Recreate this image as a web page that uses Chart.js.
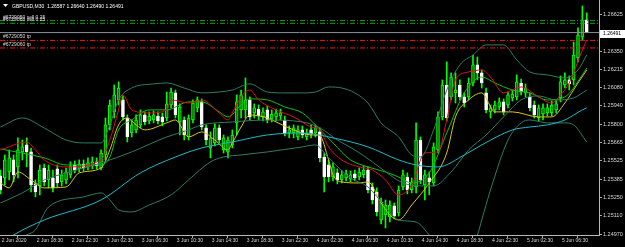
<!DOCTYPE html>
<html>
<head>
<meta charset="utf-8">
<script src="https://cdn.jsdelivr.net/npm/chart.js@4.4.1/dist/chart.umd.min.js"></script>
<style>
  html, body { margin: 0; padding: 0; background: #000; }
  canvas { display: block; background: #000; }
</style>
</head>
<body>
<canvas id="chart" width="625" height="247"></canvas>
<script>
// GBPUSD M30, bar 0 = 2 Jun 14:30
const open = [
  1.25410, 1.25395, 1.25440, 1.25531, 1.25478, 1.25591, 1.25644, 1.25591, 1.25350, 1.25335,
  1.25470, 1.25380, 1.25395, 1.25463, 1.25365, 1.25380, 1.25418, 1.25493, 1.25463, 1.25500,
  1.25478, 1.25485, 1.25516, 1.25470, 1.25568, 1.25795, 1.25893, 1.25983, 1.25983, 1.25847,
  1.25734, 1.25757, 1.25795, 1.25870, 1.25825, 1.25832, 1.25862, 1.25855, 1.25847, 1.25945,
  1.26036, 1.25817, 1.25832, 1.25704, 1.25832, 1.25923, 1.25968, 1.25772, 1.25621, 1.25659,
  1.25772, 1.25606, 1.25591, 1.25644, 1.25810, 1.25908, 1.25908, 1.25983, 1.25885, 1.25915,
  1.25855, 1.25908, 1.25840, 1.25855, 1.25862, 1.25832, 1.25734, 1.25734, 1.25704, 1.25757,
  1.25704, 1.25757, 1.25734, 1.25742, 1.25553, 1.25493, 1.25402, 1.25433, 1.25380, 1.25395,
  1.25387, 1.25425, 1.25402, 1.25418, 1.25455, 1.25327, 1.25289, 1.25078, 1.25116, 1.25101,
  1.25184, 1.25131, 1.25327, 1.25402, 1.25304, 1.25327, 1.25681, 1.25342, 1.25395, 1.25357,
  1.25606, 1.25855, 1.26096, 1.26006, 1.26036, 1.26096, 1.26006, 1.26006, 1.26111, 1.26247,
  1.26187, 1.26036, 1.25893, 1.25908, 1.25930, 1.25968, 1.25945, 1.25998, 1.26006, 1.26111,
  1.26036, 1.26006, 1.25945, 1.25847, 1.25877, 1.25885, 1.25885, 1.25908, 1.25998, 1.26096,
  1.26134, 1.26134, 1.26300, 1.26458, 1.26587
];
const high = [
  1.25455, 1.25568, 1.25606, 1.25568, 1.25697, 1.25681, 1.25697, 1.25621, 1.25380, 1.25493,
  1.25500, 1.25493, 1.25455, 1.25493, 1.25455, 1.25470, 1.25516, 1.25523, 1.25531, 1.25531,
  1.25546, 1.25553, 1.25546, 1.25606, 1.25847, 1.25983, 1.26096, 1.26119, 1.26013, 1.25870,
  1.25832, 1.25870, 1.25908, 1.25893, 1.25893, 1.25900, 1.25893, 1.25885, 1.26043, 1.26073,
  1.26058, 1.25953, 1.25855, 1.25870, 1.25983, 1.26006, 1.25991, 1.25795, 1.25742, 1.25802,
  1.25795, 1.25719, 1.25704, 1.25757, 1.26021, 1.26058, 1.26149, 1.26006, 1.25953, 1.25945,
  1.25923, 1.25938, 1.25908, 1.25915, 1.25915, 1.25862, 1.25787, 1.25795, 1.25787, 1.25787,
  1.25764, 1.25795, 1.25795, 1.25772, 1.25583, 1.25531, 1.25508, 1.25463, 1.25448, 1.25455,
  1.25448, 1.25455, 1.25470, 1.25485, 1.25478, 1.25357, 1.25320, 1.25244, 1.25229, 1.25222,
  1.25206, 1.25335, 1.25455, 1.25433, 1.25395, 1.25810, 1.25704, 1.25455, 1.25440, 1.25659,
  1.25893, 1.26134, 1.26270, 1.26187, 1.26187, 1.26134, 1.26036, 1.26149, 1.26322, 1.26307,
  1.26209, 1.26073, 1.25945, 1.25975, 1.25998, 1.25991, 1.26043, 1.26058, 1.26172, 1.26141,
  1.26104, 1.26036, 1.25975, 1.25945, 1.25953, 1.25953, 1.25975, 1.25983, 1.26164, 1.26187,
  1.26164, 1.26420, 1.26526, 1.26692, 1.26640
];
const low = [
  1.25274, 1.25342, 1.25380, 1.25365, 1.25395, 1.25531, 1.25478, 1.25289, 1.25252, 1.25267,
  1.25335, 1.25320, 1.25289, 1.25327, 1.25335, 1.25350, 1.25395, 1.25433, 1.25440, 1.25448,
  1.25455, 1.25463, 1.25463, 1.25455, 1.25531, 1.25757, 1.25847, 1.25945, 1.25832, 1.25666,
  1.25704, 1.25734, 1.25772, 1.25795, 1.25802, 1.25810, 1.25802, 1.25787, 1.25825, 1.25923,
  1.25847, 1.25719, 1.25681, 1.25681, 1.25810, 1.25893, 1.25757, 1.25644, 1.25546, 1.25636,
  1.25659, 1.25583, 1.25546, 1.25621, 1.25719, 1.25847, 1.25847, 1.25832, 1.25847, 1.25832,
  1.25825, 1.25810, 1.25817, 1.25825, 1.25832, 1.25712, 1.25697, 1.25697, 1.25681, 1.25697,
  1.25681, 1.25697, 1.25704, 1.25516, 1.25289, 1.25365, 1.25372, 1.25350, 1.25357, 1.25372,
  1.25365, 1.25372, 1.25380, 1.25395, 1.25282, 1.25199, 1.25108, 1.25048, 1.25018, 1.25063,
  1.25086, 1.25108, 1.25304, 1.25274, 1.25282, 1.25282, 1.25350, 1.25229, 1.25267, 1.25335,
  1.25583, 1.25832, 1.25825, 1.25983, 1.25960, 1.25983, 1.25930, 1.25983, 1.26089, 1.26134,
  1.26073, 1.25885, 1.25847, 1.25885, 1.25908, 1.25870, 1.25923, 1.25975, 1.25983, 1.26021,
  1.26006, 1.25900, 1.25847, 1.25825, 1.25832, 1.25862, 1.25862, 1.25885, 1.25968, 1.26073,
  1.26058, 1.26096, 1.26270, 1.26435, 1.26490
];
const close = [
  1.25304, 1.25531, 1.25546, 1.25418, 1.25606, 1.25629, 1.25591, 1.25342, 1.25289, 1.25455,
  1.25365, 1.25455, 1.25320, 1.25357, 1.25418, 1.25440, 1.25485, 1.25455, 1.25500, 1.25470,
  1.25508, 1.25516, 1.25485, 1.25583, 1.25795, 1.25945, 1.26021, 1.26073, 1.25855, 1.25704,
  1.25795, 1.25832, 1.25870, 1.25817, 1.25862, 1.25870, 1.25825, 1.25817, 1.25953, 1.26043,
  1.25870, 1.25930, 1.25719, 1.25847, 1.25960, 1.25983, 1.25779, 1.25681, 1.25697, 1.25772,
  1.25681, 1.25697, 1.25681, 1.25719, 1.25968, 1.26021, 1.25983, 1.25855, 1.25923, 1.25862,
  1.25893, 1.25832, 1.25877, 1.25885, 1.25885, 1.25734, 1.25757, 1.25772, 1.25757, 1.25719,
  1.25734, 1.25727, 1.25772, 1.25546, 1.25402, 1.25402, 1.25478, 1.25380, 1.25418, 1.25425,
  1.25418, 1.25395, 1.25440, 1.25455, 1.25304, 1.25229, 1.25139, 1.25214, 1.25191, 1.25191,
  1.25108, 1.25304, 1.25418, 1.25304, 1.25365, 1.25681, 1.25380, 1.25418, 1.25365, 1.25629,
  1.25855, 1.26096, 1.25847, 1.26156, 1.26058, 1.26006, 1.25960, 1.26111, 1.26247, 1.26187,
  1.26111, 1.25908, 1.25923, 1.25945, 1.25968, 1.25893, 1.26021, 1.26028, 1.26119, 1.26043,
  1.26073, 1.25923, 1.25870, 1.25923, 1.25923, 1.25923, 1.25945, 1.25953, 1.26119, 1.26134,
  1.26104, 1.26322, 1.26473, 1.26586, 1.26491
];

// indicator lines, read at these bar numbers
const cyanX = [0, 3, 10, 23, 32, 40, 46, 53, 61, 69, 76, 84, 91, 95, 100, 106, 110, 117, 121, 125, 129, 133, 134];
const cyanY = [1.24897, 1.24965, 1.25078, 1.25229, 1.25433, 1.25553, 1.25621, 1.25666, 1.25719, 1.25734, 1.25697, 1.25629,
  1.25531, 1.25493, 1.25478, 1.25568, 1.25644, 1.25757, 1.25779, 1.25795, 1.25832, 1.25908, 1.25923];

const bandUpX = [0, 5, 10, 15, 19, 23, 25, 27, 30, 35, 38, 42, 46, 50, 53, 57, 61, 65, 69, 72,
  75, 78, 81, 84, 87, 91, 94, 96, 99, 102, 105, 108, 111, 115, 118, 121, 125, 129, 132, 134];
const bandUpY = [1.25779, 1.25847, 1.25772, 1.25681, 1.25659, 1.25659, 1.25795, 1.25983, 1.26073, 1.26104,
  1.26111, 1.26073, 1.26036, 1.26043, 1.26058, 1.26104, 1.26043, 1.26036, 1.26036, 1.26043,
  1.26081, 1.26073, 1.26036, 1.25960, 1.25810, 1.25704, 1.25568, 1.25553, 1.25757, 1.26058,
  1.26247, 1.26322, 1.26398, 1.26398, 1.26285, 1.26194, 1.26172, 1.26149, 1.26209, 1.26322];

const bandMidX = [0, 5, 10, 15, 23, 30, 38, 43, 46, 53, 61, 69, 73, 77, 81, 85, 89, 92, 96, 99,
  103, 107, 111, 115, 119, 123, 127, 131, 134];
const bandMidY = [1.25206, 1.25282, 1.25380, 1.25433, 1.25508, 1.25591, 1.25704, 1.25757, 1.25795, 1.25817,
  1.25832, 1.25817, 1.25772, 1.25681, 1.25606, 1.25516, 1.25418, 1.25357, 1.25335, 1.25335,
  1.25440, 1.25606, 1.25719, 1.25855, 1.25983, 1.26013, 1.25983, 1.25998, 1.26058];

const bandLowX = [0, 6, 8, 11, 19, 23, 25, 27, 30, 34, 39, 43, 48, 51, 55, 61, 69, 72, 75, 80,
  84, 88, 91, 95, 98, 101, 106, 109, 110, 112, 116, 119, 121, 125, 129, 131, 134];
const bandLowY = [1.24852, 1.24965, 1.25003, 1.25176, 1.25252, 1.25282, 1.25229, 1.25154, 1.25139, 1.25191,
  1.25267, 1.25380, 1.25516, 1.25553, 1.25568, 1.25591, 1.25629, 1.25644, 1.25546, 1.25395,
  1.25327, 1.25176, 1.25078, 1.25063, 1.24965, 1.24852, 1.24852, 1.24965, 1.25078, 1.25304,
  1.25681, 1.25810, 1.25832, 1.25810, 1.25810, 1.25795, 1.25666];

const redX = [0, 6, 8, 10, 15, 23, 25, 27, 28, 30, 34, 38, 39, 43, 46, 50, 52, 53, 55, 57,
  59, 63, 67, 71, 73, 75, 78, 82, 85, 88, 91, 94, 97, 100, 102, 104, 107, 110, 112, 115,
  119, 123, 126, 128, 130, 133, 134];
const redY = [1.25606, 1.25666, 1.25606, 1.25531, 1.25478, 1.25531, 1.25681, 1.25908, 1.26021, 1.25908,
  1.25885, 1.25908, 1.25983, 1.25960, 1.25983, 1.25885, 1.25832, 1.25885, 1.26006, 1.26058,
  1.25983, 1.25908, 1.25855, 1.25779, 1.25757, 1.25629, 1.25531, 1.25478, 1.25455, 1.25380,
  1.25267, 1.25342, 1.25583, 1.25591, 1.25832, 1.26134, 1.26194, 1.26209, 1.26156, 1.26036,
  1.26081, 1.26006, 1.25960, 1.26021, 1.26111, 1.26360, 1.26435];

const greenX = [0, 10, 15, 23, 25, 27, 30, 34, 38, 43, 46, 50, 52, 55, 57, 61, 65, 69, 72, 76,
  80, 84, 88, 91, 94, 98, 102, 106, 110, 113, 117, 121, 125, 129, 133, 134];
const greenY = [1.25614, 1.25546, 1.25493, 1.25493, 1.25553, 1.25757, 1.25832, 1.25908, 1.25908, 1.25968,
  1.25968, 1.25893, 1.25855, 1.25945, 1.25991, 1.25983, 1.25930, 1.25885, 1.25795, 1.25659,
  1.25531, 1.25478, 1.25440, 1.25402, 1.25357, 1.25433, 1.25734, 1.26036, 1.26156, 1.26111,
  1.26058, 1.26036, 1.25983, 1.26006, 1.26172, 1.26224];

const yellowX = [0, 2, 4, 7, 10, 15, 18, 23, 25, 27, 29, 31, 33, 38, 40, 43, 46, 49, 52, 53,
  55, 57, 61, 63, 67, 71, 73, 75, 76, 78, 82, 84, 87, 89, 91, 94, 98, 102, 104, 107,
  110, 113, 117, 123, 126, 129, 132, 134];
const yellowY = [1.25357, 1.25320, 1.25440, 1.25380, 1.25320, 1.25327, 1.25433, 1.25470, 1.25606, 1.25795,
  1.25847, 1.25795, 1.25757, 1.25810, 1.25832, 1.25704, 1.25742, 1.25681, 1.25606, 1.25659,
  1.25779, 1.25870, 1.25847, 1.25817, 1.25757, 1.25719, 1.25712, 1.25531, 1.25418, 1.25365,
  1.25357, 1.25365, 1.25206, 1.25116, 1.25078, 1.25191, 1.25357, 1.25583, 1.25855, 1.25983,
  1.26036, 1.25893, 1.25893, 1.25855, 1.25855, 1.25960, 1.26111, 1.26209];

// orders and current bid
const sellPrices = [1.26581, 1.26561];
const sellNames = ["#6729050 sell 0.25", "#6729060 sell 0.25"];
const tpPrices = [1.26432, 1.26375];
const tpNames = ["#6729050 tp", "#6729060 tp"];
const bid = 1.26491;

// axes
const timeBars = [0, 8, 16, 24, 32, 40, 48, 56, 64, 72, 80, 88, 96, 104, 112, 120, 128];
const timeLabels = ["2 Jun 2020", "2 Jun 18:30", "2 Jun 22:30", "3 Jun 02:30", "3 Jun 06:30", "3 Jun 10:30",
  "3 Jun 14:30", "3 Jun 18:30", "3 Jun 22:30", "4 Jun 02:30", "4 Jun 06:30", "4 Jun 10:30",
  "4 Jun 14:30", "4 Jun 18:30", "4 Jun 22:30", "5 Jun 02:30", "5 Jun 06:30"];
const priceTicks = [1.24970, 1.25110, 1.25250, 1.25385, 1.25525, 1.25665, 1.25800, 1.25940,
  1.26080, 1.26215, 1.26350, 1.26490, 1.26625];

const FONT = "Liberation Sans";
const X_MIN = -0.1, X_MAX = 136.8;

function pts(xs, ys) {
  return xs.map((x, i) => ({ x: x, y: ys[i] }));
}
function lineSet(data, color, width) {
  return {
    type: "line", data: data, borderColor: color, borderWidth: width || 1,
    pointRadius: 0, cubicInterpolationMode: "monotone", clip: 0, order: 1
  };
}
function levelSet(price, color, dash) {
  return {
    type: "line", data: [{ x: X_MIN, y: price }, { x: X_MAX, y: price }],
    borderColor: color, borderWidth: 1, borderDash: dash, pointRadius: 0, clip: 0, order: 0
  };
}

const bull = close.map((c, i) => c >= open[i]);

const overlay = {
  id: "overlay",
  afterDraw(chart) {
    const ctx = chart.ctx;
    const ys = chart.scales.y;
    ctx.save();
    ctx.font = "5px '" + FONT + "'";
    ctx.textBaseline = "alphabetic";
    ctx.fillStyle = "#d8d8d8";
    // order labels
    sellNames.forEach((t, i) => ctx.fillText(t, 3, ys.getPixelForValue(sellPrices[i]) - 2));
    tpNames.forEach((t, i) => ctx.fillText(t, 3, ys.getPixelForValue(tpPrices[i]) - 2));
    // header
    ctx.fillStyle = "#ffffff";
    ctx.beginPath();
    ctx.moveTo(3, 4); ctx.lineTo(8, 4); ctx.lineTo(5.5, 7); ctx.closePath();
    ctx.fill();
    ctx.fillText("GBPUSD,M30  " + open[134].toFixed(5) + " " + high[134].toFixed(5) + " " +
      low[134].toFixed(5) + " " + close[134].toFixed(5), 12, 8);
    // bid box
    const by = ys.getPixelForValue(bid);
    ctx.fillStyle = "#ffffff";
    ctx.fillRect(600, Math.round(by) - 3, 25, 8);
    ctx.fillStyle = "#000000";
    ctx.textBaseline = "middle";
    ctx.fillText(bid.toFixed(5), 603, Math.round(by) + 1);
    ctx.restore();
  }
};

new Chart(document.getElementById("chart"), {
  type: "bar",
  data: {
    datasets: [
      levelSet(sellPrices[0], "#1fa01f", [5, 2, 1, 2]),
      levelSet(sellPrices[1], "#1fa01f", [5, 2, 1, 2]),
      levelSet(bid, "#8a9099", []),
      levelSet(tpPrices[0], "#ff1010", [5, 2, 1, 2]),
      levelSet(tpPrices[1], "#ff1010", [5, 2, 1, 2]),
      lineSet(pts(cyanX, cyanY), "#18bcca", 1),
      lineSet(pts(bandUpX, bandUpY), "#2e7d64"),
      lineSet(pts(bandMidX, bandMidY), "#2e7d64"),
      lineSet(pts(bandLowX, bandLowY), "#2e7d64"),
      lineSet(pts(redX, redY), "#e01010"),
      lineSet(pts(greenX, greenY), "#10c010"),
      lineSet(pts(yellowX, yellowY), "#d8c810"),
      {
        type: "bar",
        data: open.map((o, i) => ({ x: i, y: [open[i], close[i]] })),
        backgroundColor: bull.map(b => b ? "#087a08" : "#ffffff"),
        borderColor: bull.map(b => b ? "#00ff00" : "#ffffff"),
        borderWidth: 1, borderSkipped: false,
        barThickness: 3, grouped: false, clip: 0, order: 5
      },
      {
        type: "bar",
        data: open.map((o, i) => ({ x: i, y: [low[i], high[i]] })),
        backgroundColor: "#00ff00",
        barThickness: 1, grouped: false, clip: 0, order: 6
      }
    ]
  },
  options: {
    responsive: false,
    animation: false,
    devicePixelRatio: 1,
    layout: { padding: 0 },
    plugins: { legend: { display: false }, tooltip: { enabled: false } },
    scales: {
      x: {
        type: "linear", min: X_MIN, max: X_MAX, offset: false,
        afterBuildTicks: s => { s.ticks = timeBars.map(v => ({ value: v })); },
        afterFit: s => { s.height = 12; s.paddingLeft = 0; s.paddingRight = 0; },
        grid: { drawOnChartArea: false, color: "#a8a8a8", tickLength: 3 },
        border: { color: "#b8b8b8" },
        ticks: {
          autoSkip: false, maxRotation: 0, align: "start", padding: 0, color: "#d8d8d8",
          font: { family: FONT, size: 5 },
          callback: (v, i) => " " + timeLabels[i]
        }
      },
      y: {
        type: "linear", position: "right", min: 1.249647, max: 1.267366,
        afterBuildTicks: s => { s.ticks = priceTicks.map(v => ({ value: v })); },
        afterFit: s => { s.width = 26; s.paddingTop = 0; s.paddingBottom = 0; },
        grid: { drawOnChartArea: false, color: "#a8a8a8", tickLength: 3 },
        border: { color: "#b8b8b8" },
        ticks: {
          padding: 1, color: "#d8d8d8", font: { family: FONT, size: 5.5 },
          callback: v => v.toFixed(5)
        }
      }
    }
  },
  plugins: [overlay]
});
</script>
</body>
</html>
